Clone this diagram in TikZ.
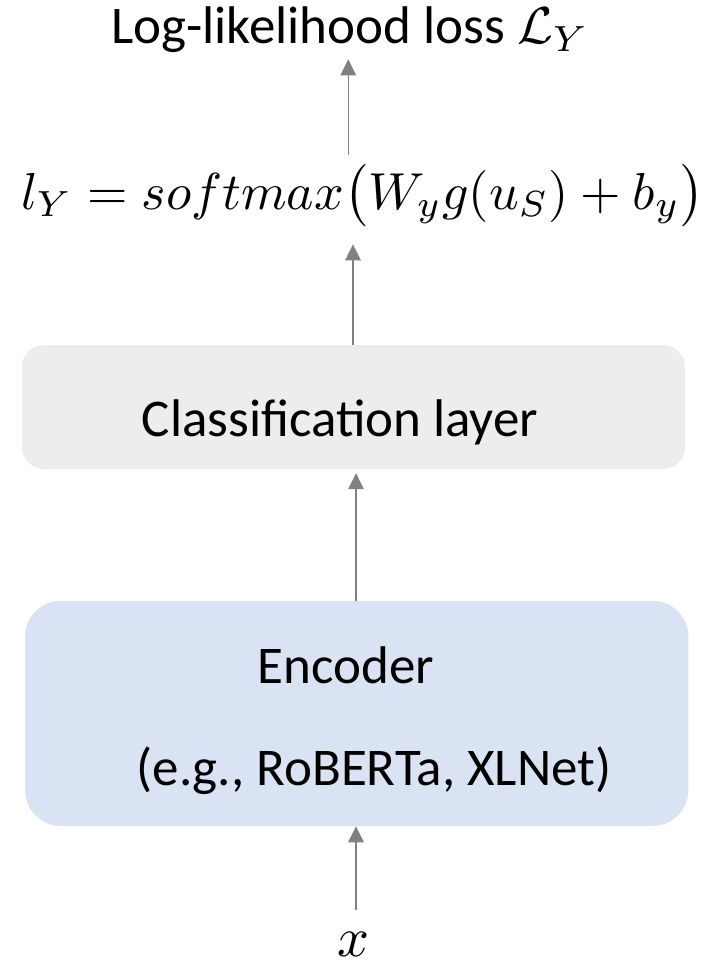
\documentclass[tikz,border=0pt]{standalone}
\usepackage{graphicx}
\usepackage{fontspec}
\setmainfont{Carlito}
\usetikzlibrary{arrows.meta}
\definecolor{boxgray}{HTML}{EDEDED}
\definecolor{boxblue}{HTML}{DAE3F3}
\definecolor{arrowgray}{HTML}{808080}
\newcommand{\bigmath}[2]{\scalebox{#1}{\fontsize{10}{12}\selectfont$#2$}}
\begin{document}
\begin{tikzpicture}[x=1pt,y=-1pt,
  lbl/.style={inner sep=0pt, font=\fontsize{53}{62}\selectfont},
  flow/.style={draw=arrowgray, line width=1.5pt, -{Triangle[length=16pt,width=15.5pt,fill=arrowgray]}},
  panel/.style={inner sep=0pt, draw=none}]
\useasboundingbox[fill=white] (0,0) rectangle (712,960);
% boxes
\node[panel, fill=boxgray, rounded corners=22pt, minimum width=663pt, minimum height=124pt] (cls) at (353.5,407) {};
\node[panel, fill=boxblue, rounded corners=36pt, minimum width=663.3pt, minimum height=225.3pt] (enc) at (356.7,713.4) {};
% texts
\node[lbl, anchor=base] (title) at (350,44) {Log-likelihood loss \bigmath{5.2}{\mathcal{L}_Y}};
\node[inner sep=0pt, anchor=base] (form) at (362.5,209) {\bigmath{5.2}{l_Y = softmax\bigl(W_y g(u_S) + b_y\bigr)}};
\node[lbl, anchor=base] (clst) at (340,436) {Classification layer};
\node[lbl, anchor=base] (enct) at (346,683) {Encoder};
\node[lbl, anchor=base] (encs) at (374,785) {(e.g., RoBERTa, XLNet)};
\node[inner sep=0pt, anchor=base] (xin) at (353,956) {\bigmath{5.6}{x}};
% arrow columns
\coordinate (c1) at (348.3,0);
\coordinate (c2) at (353,0);
\coordinate (c3) at (356,0);
% connectors
\draw[flow, shorten <=10pt, shorten >=6pt] (form.north -| c1) -- (title.south -| c1);
\draw[flow, shorten >=17pt] (cls.north -| c2) -- (form.south -| c2);
\draw[flow] (enc.north -| c3) -- ([yshift=-4pt]cls.south -| c3);
\draw[flow, shorten <=22pt] (xin.north -| c3) -- (enc.south -| c3);
\end{tikzpicture}
\end{document}
